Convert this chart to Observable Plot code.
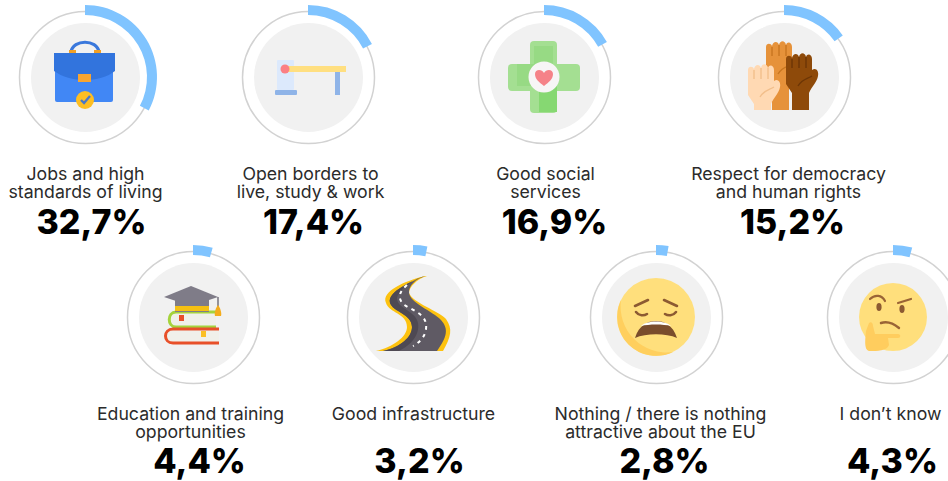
<!DOCTYPE html>
<html>
<head>
<meta charset="utf-8">
<script src="https://cdn.jsdelivr.net/npm/d3@7"></script>
<script src="https://cdn.jsdelivr.net/npm/@observablehq/plot@0.6"></script>
<style>html,body{margin:0;padding:0;background:#fff}svg{display:block}</style>
</head>
<body>
<div id="chart"></div>
<script>
// Data
const categories = [
  "Jobs and high\nstandards of living",
  "Open borders to\nlive, study & work",
  "Good social\nservices",
  "Respect for democracy\nand human rights",
  "Education and training\nopportunities",
  "Good infrastructure",
  "Nothing / there is nothing\nattractive about the EU",
  "I don’t know"
];
const values = [32.7, 17.4, 16.9, 15.2, 4.4, 3.2, 2.8, 4.3];
const valueLabels = ["32,7%", "17,4%", "16,9%", "15,2%", "4,4%", "3,2%", "2,8%", "4,3%"];

// Layout (page pixels), separate from the data
const ringX  = [85, 308, 544, 784, 193, 413, 656, 893];
const ringY  = [77, 77, 77, 77, 317, 317, 317, 317];
const labelX = [85, 310, 545, 788, 190, 413, 660, 890];
const pctX   = [91, 313, 554, 792, 199, 419, 664, 892];
const labelY = [166, 166, 166, 166, 406, 406, 406, 406];
const pctY   = [223, 223, 223, 223, 462, 462, 462, 462];

const fist = (x, y, c, d) => `<g transform="translate(${x},${y})">
<path fill="${c}" d="M-9,${33 - y}V16L-15,7V-18C-15,-22 -10,-22 -9,-19C-8,-24 -3,-24 -2,-20C-1,-25 4,-25 5,-20C6,-24 11,-23 11,-18V-7C15,-10 18,-6 17,-1C16,5 11,9 8,16V${33 - y}Z"/>
<path fill="none" stroke="${d}" stroke-width="1.4" d="M-9,-18V-9M-2,-20V-9M5,-20V-9M-3,9C1,2 6,2 11,-1"/></g>`;

const icons = [
`<path d="M-14,-25C-12,-38 12,-38 14,-25" fill="none" stroke="#3a78dc" stroke-width="3.2"/>
<rect x="-16" y="-27" width="7" height="3" fill="#f2a024"/><rect x="9" y="-27" width="7" height="3" fill="#f2a024"/>
<rect x="-30" y="-24" width="58" height="49" rx="2" fill="#4187f5"/>
<path d="M-31,-24H30V-6C15,6 -15,6 -31,-6Z" fill="#3274dd"/>
<rect x="-7" y="-3" width="13" height="8" fill="#f8a531"/>
<circle cx="0" cy="23" r="9" fill="#fdbe22"/>
<path d="M-4,23L-1,26L5,19" fill="none" stroke="#4a78c8" stroke-width="2.4"/>`,
`<rect x="-31" y="-17" width="17" height="30" rx="1" fill="#dce9fc"/>
<rect x="-33" y="13" width="22" height="5" rx="1" fill="#8fb4e8"/>
<rect x="-23" y="-11" width="61" height="6" fill="#ffdf80"/>
<rect x="27" y="-5" width="5" height="23" fill="#8fb4e8"/>
<circle cx="-23" cy="-8" r="4.5" fill="#fb7f85"/>`,
`<rect x="-14" y="-36" width="27" height="72" rx="4" fill="#a4df92"/>
<rect x="-36" y="-13" width="72" height="27" rx="4" fill="#a4df92"/>
<rect x="-10" y="-31" width="19" height="30" fill="#97da84"/>
<rect x="-27" y="-13" width="26" height="22" fill="#97da84"/>
<rect x="-5" y="5" width="18" height="30" fill="#86d872"/>
<circle cx="0" cy="0" r="15.5" fill="#f7f5f6"/>
<path d="M0,9C-5,5 -9,2 -9,-3C-9,-8 -2,-8 0,-4C2,-8 9,-8 9,-3C9,2 5,5 0,9Z" fill="#f58288"/>`,
fist(-3, -12, "#e6923a", "#c87620") + fist(17, 0, "#8e4a0a", "#6d3606") + fist(-21, 11, "#ffd9b3", "#f2bf8c"),
`<path d="M23,-5H-17C-26,-5 -26,10 -17,10H23" fill="#f0f0ea" stroke="#a5d33c" stroke-width="3"/>
<rect x="-14" y="-2" width="5" height="6" fill="#e8502a"/>
<path d="M26,12H-20C-30,12 -30,26 -20,26H26" fill="#f0f0ea" stroke="#e8502a" stroke-width="3"/>
<rect x="8" y="14" width="5" height="6" fill="#fbbf24"/>
<rect x="-18" y="-19" width="34" height="14" fill="#7f7c88"/>
<rect x="-18" y="-11" width="34" height="5" fill="#f5c012"/>
<path d="M-29,-20L-2,-31L25,-20L-2,-11Z" fill="#7f7c88"/>
<path d="M25,-20V-10" stroke="#6d6a76" stroke-width="1.4"/>
<path d="M25,-12C27,-10 29,-4 28,-1H22C21,-4 23,-10 25,-12Z" fill="#f4ac1c"/>`,
`<path d="M12,-41C-8,-36 -32,-26 -27,-14C-24,-4 -6,-4 -6,10C-6,20 -20,30 -37,34H30C38,20 40,12 33,2C26,-6 0,-14 -4,-24C-4,-30 4,-38 14,-41Z" fill="#fdc20f"/>
<path d="M12,-41C0,-36 -26,-26 -23,-14C-20,-5 -1,-3 -1,10C-1,20 -12,30 -30,34H24C34,20 36,12 28,3C20,-6 -4,-14 -4,-25C-4,-31 2,-38 12,-41Z" fill="#5f5a64"/>
<path d="M12,-41C0,-36 -26,-26 -23,-14C-20,-5 -1,-3 -1,10C-1,20 -12,30 -30,34H-14C-2,28 7,18 5,6C3,-6 -15,-8 -16,-18C-16,-26 0,-38 12,-41Z" fill="#4e4953"/>
<path d="M-6,-32C-13,-26 -16,-20 -10,-13C0,-6 15,-3 13,12C12,20 6,26 0,29" fill="none" stroke="#fff" stroke-width="2" stroke-dasharray="3.5 4.5"/>`,
`<circle r="39" fill="#ffdf7c"/>
<path d="M-35,-17A39,39 0 0,0 17,35A46,46 0 0,1 -35,-17Z" fill="#ffcf5e"/>
<path d="M-21,-11L-8,-17M21,-11L8,-17" fill="none" stroke="#8c5a32" stroke-width="2.6" stroke-linecap="round"/>
<path d="M-20,-5C-17,-1 -12,-1 -9,-3M20,-5C17,-1 12,-1 9,-3" fill="none" stroke="#8c5a32" stroke-width="2.6" stroke-linecap="round"/>
<path d="M-21,21C-17,8 -8,4 0,4C8,4 17,8 21,21C10,16 -10,16 -21,21Z" fill="#7a4d2c"/>
<path d="M-15,9C-9,3 9,3 15,9C7,7 -7,7 -15,9Z" fill="#fff"/>`,
`<circle cx="0" cy="0" r="34" fill="#ffdf7c"/>
<path d="M-23,-18C-18,-23 -11,-22 -8,-16M5,-14L18,-18" fill="none" stroke="#9a6436" stroke-width="2.2" stroke-linecap="round"/>
<ellipse cx="-14" cy="-10" rx="2.6" ry="4" fill="#8c5a32"/><ellipse cx="9" cy="-8" rx="2.6" ry="4" fill="#8c5a32"/>
<path d="M-12,6C-6,4 0,6 6,11" fill="none" stroke="#9a6436" stroke-width="2.4" stroke-linecap="round"/>
<path d="M-27,14L-24,6C-22,4 -20,6 -20,9L-18,17H5C8,17 8,21 5,21H-5L-4,28C-6,34 -16,34 -23,34C-29,34 -28,24 -27,14Z" fill="#ffcd5e"/>`
];

const rows = categories.map((c, i) => ({
  category: c, value: values[i], label: valueLabels[i],
  rx: ringX[i], ry: ringY[i], lx: labelX[i], px: pctX[i], ly: labelY[i], py: pctY[i], icon: icons[i]
}));

const angle = d3.scaleLinear().domain([0, 100]).range([0, 2 * Math.PI]);
const arcPath = d3.arc().innerRadius(62).outerRadius(72);

function arcs(index, {x, y}) {
  const g = d3.create("svg:g");
  g.selectAll("path").data(rows).join("path")
    .attr("transform", d => `translate(${x(d.rx)},${y(d.ry)})`)
    .attr("fill", "#80c4ff")
    .attr("d", d => arcPath({startAngle: 0, endAngle: angle(d.value)}));
  return g.node();
}
function drawIcons(index, {x, y}) {
  const g = d3.create("svg:g");
  g.selectAll("g").data(rows).join("g")
    .attr("transform", d => `translate(${x(d.rx)},${y(d.ry)})`)
    .html(d => d.icon);
  return g.node();
}

const font = "Inter, 'Open Sans', sans-serif";
const chart = Plot.plot({
  width: 948, height: 481, margin: 0,
  x: {domain: [0, 948], range: [0, 948], axis: null},
  y: {domain: [0, 481], range: [0, 481], axis: null},
  style: {background: "#fff", overflow: "hidden"},
  marks: [
    Plot.dot(rows, {x: "rx", y: "ry", r: 66, fill: "#fff", stroke: "#d2d2d2", strokeWidth: 1.5}),
    Plot.dot(rows, {x: "rx", y: "ry", r: 54.5, fill: "#f1f1f1"}),
    arcs,
    drawIcons,
    Plot.text(rows, {x: "lx", y: "ly", text: "category", fontSize: 17.7, lineHeight: 1.05, fill: "#2b2b2b",
      fontFamily: font, textAnchor: "middle", lineAnchor: "top"}),
    Plot.text(rows, {x: "px", y: "py", text: "label", fontSize: 34, fontWeight: 800, fill: "#000",
      fontFamily: font, textAnchor: "middle", lineAnchor: "middle"})
  ]
});
document.getElementById("chart").append(chart);
</script>
</body>
</html>
